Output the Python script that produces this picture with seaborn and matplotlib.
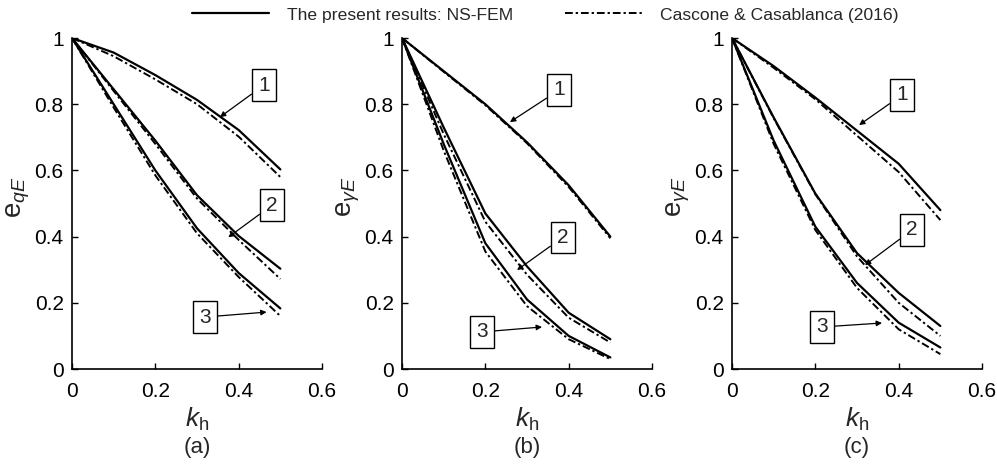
import numpy as np
import pandas as pd
import matplotlib
matplotlib.use("Agg")
import matplotlib.pyplot as plt
import seaborn as sns

# data
kh = [0.0, 0.1, 0.2, 0.3, 0.4, 0.5]

# (a) e_qE
a_fem_1 = [1.0, 0.956, 0.888, 0.813, 0.722, 0.603]
a_ref_1 = [1.0, 0.945, 0.875, 0.800, 0.702, 0.580]
a_fem_2 = [1.0, 0.845, 0.690, 0.525, 0.402, 0.303]
a_ref_2 = [1.0, 0.840, 0.680, 0.515, 0.390, 0.272]
a_fem_3 = [1.0, 0.800, 0.600, 0.425, 0.290, 0.183]
a_ref_3 = [1.0, 0.790, 0.585, 0.410, 0.278, 0.160]

# (b) e_gammaE
b_fem_1 = [1.0, 0.900, 0.800, 0.685, 0.555, 0.400]
b_ref_1 = [1.0, 0.898, 0.797, 0.682, 0.550, 0.395]
b_fem_2 = [1.0, 0.730, 0.470, 0.310, 0.170, 0.090]
b_ref_2 = [1.0, 0.710, 0.445, 0.285, 0.155, 0.080]
b_fem_3 = [1.0, 0.680, 0.380, 0.210, 0.100, 0.035]
b_ref_3 = [1.0, 0.660, 0.355, 0.190, 0.090, 0.030]

# (c) e_gammaE
c_fem_1 = [1.0, 0.915, 0.820, 0.720, 0.620, 0.480]
c_ref_1 = [1.0, 0.910, 0.815, 0.705, 0.595, 0.450]
c_fem_2 = [1.0, 0.760, 0.530, 0.350, 0.230, 0.130]
c_ref_2 = [1.0, 0.758, 0.528, 0.340, 0.200, 0.100]
c_fem_3 = [1.0, 0.690, 0.430, 0.260, 0.140, 0.065]
c_ref_3 = [1.0, 0.680, 0.420, 0.245, 0.120, 0.045]

ylabels = [r'e$_{qE}$', r'e$_{\gamma E}$', r'e$_{\gamma E}$']
panel_tags = ['(a)', '(b)', '(c)']
xticks = [0, 0.2, 0.4, 0.6]
xtick_labels = ['0', '0.2', '0.4', '0.6']
yticks = [0, 0.2, 0.4, 0.6, 0.8, 1.0]
ytick_labels = ['0', '0.2', '0.4', '0.6', '0.8', '1']

# box label position / arrow tip for curves 1, 2, 3 in each panel
box_pos = [[(0.461, 0.858), (0.48, 0.495), (0.319, 0.157)],
           [(0.377, 0.843), (0.386, 0.398), (0.192, 0.112)],
           [(0.408, 0.828), (0.432, 0.420), (0.216, 0.127)]]
tip_pos = [[(0.355, 0.761), (0.375, 0.398), (0.467, 0.172)],
           [(0.259, 0.746), (0.276, 0.299), (0.336, 0.127)],
           [(0.305, 0.737), (0.319, 0.314), (0.360, 0.139)]]

panels = [
    [(a_fem_1, a_ref_1), (a_fem_2, a_ref_2), (a_fem_3, a_ref_3)],
    [(b_fem_1, b_ref_1), (b_fem_2, b_ref_2), (b_fem_3, b_ref_3)],
    [(c_fem_1, c_ref_1), (c_fem_2, c_ref_2), (c_fem_3, c_ref_3)],
]

sns.set_style('ticks')
plt.rcParams['font.family'] = ['Liberation Sans', 'DejaVu Sans']
plt.rcParams['mathtext.fontset'] = 'custom'
plt.rcParams['mathtext.rm'] = 'Liberation Sans'
plt.rcParams['mathtext.it'] = 'Liberation Sans:italic'

fig = plt.figure(figsize=(9.97, 4.68), dpi=100)
lefts = [0.0722, 0.4032, 0.7342]

for i, curves in enumerate(panels):
    ax = fig.add_axes([lefts[i], 0.2115, 0.2508, 0.7073])
    for j, (fem, ref) in enumerate(curves):
        sns.lineplot(x=kh, y=fem, ax=ax, color='k', lw=1.6, linestyle='-',
                     label='The present results: NS-FEM' if (i == 0 and j == 0) else None)
        sns.lineplot(x=kh, y=ref, ax=ax, color='k', lw=1.4, linestyle=(0, (4, 1.5, 1.2, 1.5)),
                     label='Cascone & Casablanca (2016)' if (i == 0 and j == 0) else None)
        ax.annotate(str(j + 1), xy=tip_pos[i][j], xytext=box_pos[i][j],
                    ha='center', va='center', fontsize=15,
                    bbox=dict(boxstyle='square,pad=0.3', fc='white', ec='k', lw=1),
                    arrowprops=dict(arrowstyle='-|>', color='k', lw=0.9,
                                    mutation_scale=8, shrinkA=0, shrinkB=0))
    ax.set_xlim(0, 0.6)
    ax.set_ylim(0, 1)
    ax.set_xticks(xticks)
    ax.set_xticklabels(xtick_labels)
    ax.set_yticks(yticks)
    ax.set_yticklabels(ytick_labels)
    ax.tick_params(direction='in', length=4, labelsize=15, width=1, colors='k')
    ax.tick_params(axis='x', pad=9)
    ax.tick_params(axis='y', pad=6)
    for s in ['left', 'bottom']:
        ax.spines[s].set_linewidth(1.2)
        ax.spines[s].set_color('k')
    sns.despine(ax=ax)
    ax.set_xlabel(r'$k_{\rm h}$', fontsize=19)
    ax.xaxis.set_label_coords(0.5, -0.11)
    ax.set_ylabel(ylabels[i], fontsize=20)
    ax.yaxis.set_label_coords(-0.16, 0.52)
    ax.text(0.5, -0.236, panel_tags[i], transform=ax.transAxes,
            ha='center', va='center', fontsize=16)
    if i == 0:
        handles, labels = ax.get_legend_handles_labels()
        ax.get_legend().remove()

fig.legend(handles, labels, loc='center', bbox_to_anchor=(0.547, 0.968), ncol=2,
           frameon=False, fontsize=12.6, handlelength=4.4, handletextpad=1.0,
           columnspacing=3.0, borderpad=0)

fig.savefig('out.png', dpi=100)
